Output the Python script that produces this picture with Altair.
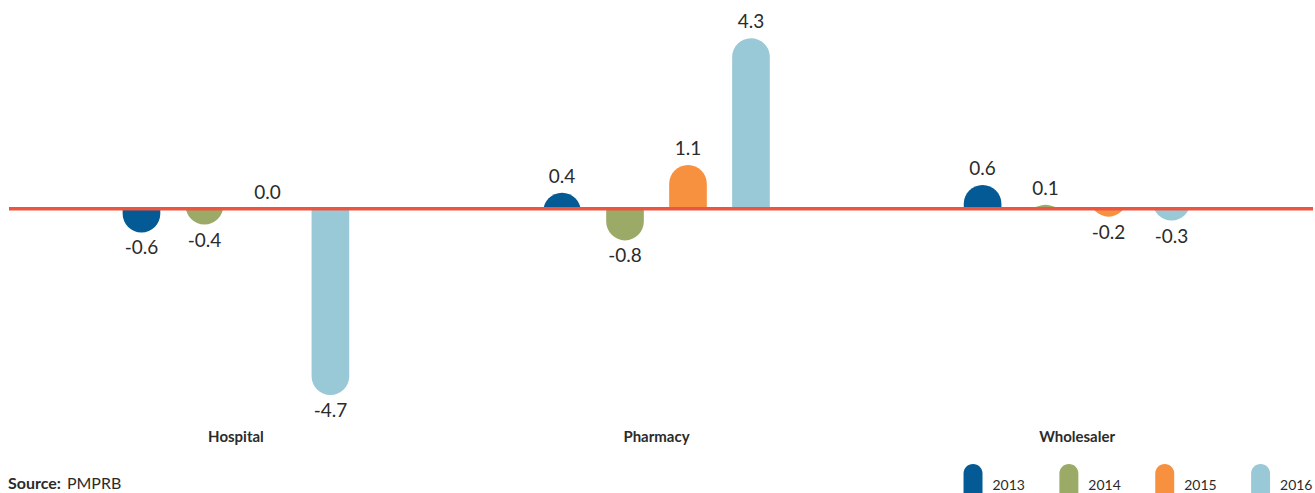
import altair as alt
import pandas as pd

# Year-over-year change by distribution channel
categories = ["Hospital", "Pharmacy", "Wholesaler"]
years = ["2013", "2014", "2015", "2016"]
hospital = [-0.6, -0.4, 0.0, -4.7]
pharmacy = [0.4, -0.8, 1.1, 4.3]
wholesaler = [0.6, 0.1, -0.2, -0.3]
colors = ["#035A94", "#9BAA67", "#F7913F", "#99C8D7"]
line_color = "#EC5640"
text_color = "#2B2B2B"

rows = []
for cat, vals in zip(categories, [hospital, pharmacy, wholesaler]):
    for yr, v in zip(years, vals):
        rows.append({"category": cat, "year": yr, "value": v, "label": f"{v:.1f}"})
df = pd.DataFrame(rows)

W, H = 1315, 427
FONT = "Lato"

x_enc = alt.X(
    "category:N",
    sort=categories,
    scale=alt.Scale(paddingInner=0.401, paddingOuter=0.2615),
    axis=alt.Axis(
        title=None, labelAngle=0, domain=False, ticks=False, grid=False,
        labelFont=FONT, labelFontSize=15, labelFontWeight="bold",
        labelColor=text_color, labelPadding=3,
    ),
)
xoff_enc = alt.XOffset("year:N", sort=years,
                       scale=alt.Scale(paddingInner=0.402, paddingOuter=0.201))
y_scale = alt.Scale(domain=[-5.5, 5.256], nice=False, zero=False)

base = alt.Chart(df).encode(x=x_enc, xOffset=xoff_enc)

# Each bar runs past the zero line so its rounded cap keeps a full radius;
# the overshoot is then masked by a white block on the far side of zero.
pills = (
    base.transform_filter("datum.value != 0")
    .transform_calculate(ext="datum.value >= 0 ? -1 : 1")
    .mark_bar(cornerRadius=18.85)
    .encode(
        y=alt.Y("value:Q", scale=y_scale, axis=None),
        y2="ext:Q",
        color=alt.Color(
            "year:N",
            sort=years,
            scale=alt.Scale(domain=years, range=colors),
            legend=alt.Legend(title=None),
        ),
    )
)

mask = (
    base.transform_filter("datum.value != 0")
    .transform_calculate(ext="datum.value >= 0 ? -1 : 1", zero="0")
    .mark_bar(color="white", stroke="white", strokeWidth=2)
    .encode(y=alt.Y("zero:Q", scale=y_scale, axis=None), y2="ext:Q")
)

baseline_df = pd.DataFrame({"level": [0.0]})
zero_line = alt.Chart(baseline_df).mark_rule(color=line_color, strokeWidth=3.5).encode(
    y=alt.Y("level:Q", scale=y_scale, axis=None),
    x=alt.value(9),
    x2=alt.value(W),
)

labels_pos = (
    base.transform_filter("datum.value >= 0")
    .mark_text(font=FONT, fontSize=19, color=text_color, baseline="middle", dy=-16)
    .encode(y=alt.Y("value:Q", scale=y_scale, axis=None), text="label:N")
)
labels_neg = (
    base.transform_filter("datum.value < 0")
    .mark_text(font=FONT, fontSize=19, color=text_color, baseline="middle", dy=16)
    .encode(y=alt.Y("value:Q", scale=y_scale, axis=None), text="label:N")
)

source_df = pd.DataFrame({"bold": ["Source:"], "plain": ["PMPRB"]})
source_bold = alt.Chart(source_df).mark_text(
    font=FONT, fontSize=16, fontWeight="bold", color=text_color,
    align="left", baseline="middle",
).encode(text="bold:N", x=alt.value(8), y=alt.value(484))
source_plain = alt.Chart(source_df).mark_text(
    font=FONT, fontSize=16, color=text_color, align="left", baseline="middle",
).encode(text="plain:N", x=alt.value(67), y=alt.value(484))

chart = (
    alt.layer(pills, mask, zero_line, labels_pos, labels_neg, source_bold, source_plain)
    .properties(width=W, height=H, padding=0, background="white")
    .configure_view(stroke=None)
    .configure_legend(
        orient="none", legendX=965, legendY=476.5, direction="horizontal",
        columns=4, columnPadding=34, padding=0,
        symbolType="M-1,0.74 L-1,-1.316 A1,1 0 0 1 1,-1.316 L1,0.74 Z",
        symbolSize=361, symbolStrokeWidth=0, symbolOpacity=1,
        labelFont=FONT, labelFontSize=14, labelColor=text_color, labelOffset=10,
    )
)

chart.save("out.html", embed_options={"renderer": "svg", "actions": False})
